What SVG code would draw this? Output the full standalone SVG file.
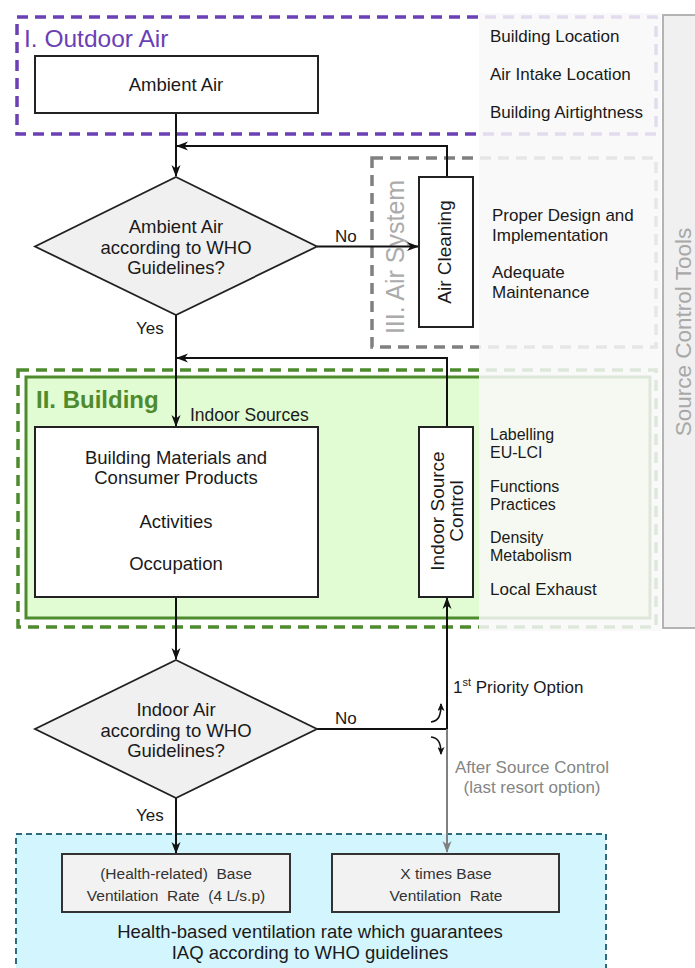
<svg xmlns="http://www.w3.org/2000/svg" width="695" height="968" viewBox="0 0 695 968">
<defs>
<marker id="ah" markerWidth="12" markerHeight="10" refX="11" refY="5" orient="auto" markerUnits="userSpaceOnUse">
<path d="M0,0.5 L12,5 L0,9.5 L3.5,5 z" fill="#111"/>
</marker>
<marker id="ahg" markerWidth="12" markerHeight="10" refX="11" refY="5" orient="auto" markerUnits="userSpaceOnUse">
<path d="M0,0.5 L12,5 L0,9.5 L3.5,5 z" fill="#808080"/>
</marker>
<marker id="ahs" markerWidth="8" markerHeight="7" refX="7" refY="3.5" orient="auto" markerUnits="userSpaceOnUse">
<path d="M0,0 L8,3.5 L0,7 L2,3.5 z" fill="#111"/>
</marker>
<style>
text{font-family:"Liberation Sans",Arial,sans-serif;fill:#1a1a1a}
.t{font-size:18.5px;text-anchor:middle}
.r{font-size:17px}
.s{font-size:16px}
.box{fill:#fff;stroke:#222;stroke-width:2}
.dia{fill:#f0f0f0;stroke:#222;stroke-width:1.8}
.bb{fill:#f2f2f2;stroke:#333;stroke-width:2}
.ln{fill:none;stroke:#111;stroke-width:2}
.bt{font-size:15.5px;text-anchor:middle;fill:#333}
</style>
</defs>
<rect width="695" height="968" fill="#fff"/>

<g id="outdoor-air-zone">
<rect x="17" y="17" width="639" height="117" fill="none" stroke="#6b3fb5" stroke-width="3.5" stroke-dasharray="11,7"/>
<text x="24" y="47" style="font-size:24.5px;fill:#6b3fb5">I. Outdoor Air</text>
</g>

<g id="air-system-zone">
<rect x="372" y="158" width="284" height="189" fill="none" stroke="#808080" stroke-width="3.5" stroke-dasharray="11,7"/>
<text transform="translate(404,257) rotate(-90)" style="font-size:25px;fill:#ababab;text-anchor:middle">III. Air System</text>
</g>

<g id="building-zone">
<rect x="18" y="370" width="638" height="257" fill="none" stroke="#4e8a2e" stroke-width="3.5" stroke-dasharray="11,7"/>
<rect x="26" y="377" width="624" height="241" fill="#e1fbd2" stroke="#4e8a2e" stroke-width="3"/>
<text x="36" y="408" style="font-size:24px;font-weight:bold;fill:#4e8a2e">II. Building</text>
</g>

<g id="ventilation-zone">
<rect x="16" y="834" width="590" height="150" fill="#d3f5fd" stroke="#2f6b7a" stroke-width="2" stroke-dasharray="6,4"/>
<text class="t" x="310" y="938">Health-based ventilation rate which guarantees</text>
<text class="t" x="310" y="959">IAQ according to WHO guidelines</text>
</g>

<g id="connectors">
<line class="ln" x1="176" y1="113" x2="176" y2="176" marker-end="url(#ah)"/>
<polyline class="ln" points="447,177 447,146 177,146" marker-end="url(#ah)"/>
<line class="ln" x1="317" y1="246.5" x2="418" y2="246.5" marker-end="url(#ah)"/>
<line class="ln" x1="176" y1="315" x2="176" y2="426" marker-end="url(#ah)"/>
<polyline class="ln" points="447,427 447,358 177,358" marker-end="url(#ah)"/>
<line class="ln" x1="176" y1="597" x2="176" y2="659" marker-end="url(#ah)"/>
<polyline class="ln" points="317,729 447,729 447,598" marker-end="url(#ah)"/>
<line x1="447" y1="729" x2="447" y2="852" fill="none" stroke="#808080" stroke-width="2" marker-end="url(#ahg)"/>
<line class="ln" x1="176" y1="798" x2="176" y2="853" marker-end="url(#ah)"/>
<path d="M431,722 C438,721 441,717 441,704" fill="none" stroke="#111" stroke-width="1.6" marker-end="url(#ahs)"/>
<path d="M431,737 C438,738 441,742 441,754" fill="none" stroke="#111" stroke-width="1.6" marker-end="url(#ahs)"/>
<text x="335" y="242" style="font-size:17px">No</text>
<text x="335" y="724" style="font-size:17px">No</text>
<text x="136" y="334" style="font-size:17px">Yes</text>
<text x="136" y="821" style="font-size:17px">Yes</text>
<text x="453" y="693" class="r">1<tspan dy="-7" style="font-size:11px">st</tspan><tspan dy="7"> Priority Option</tspan></text>
<text x="532" y="773" class="r" style="text-anchor:middle;fill:#858585">After Source Control</text>
<text x="532" y="793" class="r" style="text-anchor:middle;fill:#858585">(last resort option)</text>
</g>

<g id="ambient-air">
<rect class="box" x="35" y="56" width="283" height="57"/>
<text class="t" x="176" y="91">Ambient Air</text>
</g>

<g id="decision-ambient">
<polygon class="dia" points="176,177 317,246.5 176,315 35,246.5"/>
<text class="t" x="176" y="233">Ambient Air</text>
<text class="t" x="176" y="254">according to WHO</text>
<text class="t" x="176" y="274">Guidelines?</text>
</g>

<g id="air-cleaning">
<rect class="box" x="419" y="177" width="54" height="150"/>
<text transform="translate(451,252) rotate(-90)" style="font-size:19px;text-anchor:middle">Air Cleaning</text>
</g>

<g id="indoor-sources">
<text x="190" y="421" style="font-size:17.5px">Indoor Sources</text>
<rect class="box" x="35" y="427" width="283" height="170"/>
<text class="t" x="176" y="464">Building Materials and</text>
<text class="t" x="176" y="484">Consumer Products</text>
<text class="t" x="176" y="528">Activities</text>
<text class="t" x="176" y="570">Occupation</text>
</g>

<g id="indoor-source-control">
<rect class="box" x="419" y="427" width="54" height="170"/>
<text transform="translate(444,511) rotate(-90)" style="font-size:19px;text-anchor:middle">Indoor Source</text>
<text transform="translate(463,511) rotate(-90)" style="font-size:19px;text-anchor:middle">Control</text>
</g>

<g id="decision-indoor">
<polygon class="dia" points="176,660 317,729 176,798 35,729"/>
<text class="t" x="176" y="716">Indoor Air</text>
<text class="t" x="176" y="737">according to WHO</text>
<text class="t" x="176" y="757">Guidelines?</text>
</g>

<g id="base-rate">
<rect class="bb" x="62" y="854" width="228" height="58"/>
<text class="bt" x="176" y="879" xml:space="preserve">(Health-related)  Base</text>
<text class="bt" x="176" y="901" xml:space="preserve">Ventilation  Rate  (4 L/s.p)</text>
</g>

<g id="x-times-rate">
<rect class="bb" x="332" y="854" width="227" height="58"/>
<text class="bt" x="446" y="879">X times Base</text>
<text class="bt" x="446" y="901" xml:space="preserve">Ventilation  Rate</text>
</g>

<g id="overlay">
<rect x="479" y="13" width="182" height="618" fill="#f8f8f8" fill-opacity="0.85"/>
</g>

<g id="source-control-tools">
<rect x="663" y="15" width="40" height="613" fill="#f0f0f0" stroke="#b3b3b3" stroke-width="2"/>
<text transform="translate(691,332) rotate(-90)" style="font-size:22.5px;fill:#a8a8a8;text-anchor:middle">Source Control Tools</text>
</g>

<g id="tool-labels">
<text class="r" x="490" y="42">Building Location</text>
<text class="r" x="490" y="80">Air Intake Location</text>
<text class="r" x="490" y="118">Building Airtightness</text>
<text class="r" x="492" y="221">Proper Design and</text>
<text class="r" x="492" y="241">Implementation</text>
<text class="r" x="492" y="278">Adequate</text>
<text class="r" x="492" y="298">Maintenance</text>
<text class="s" x="490" y="440">Labelling</text>
<text class="s" x="490" y="458">EU-LCI</text>
<text class="s" x="490" y="492">Functions</text>
<text class="s" x="490" y="510">Practices</text>
<text class="s" x="490" y="543">Density</text>
<text class="s" x="490" y="561">Metabolism</text>
<text class="r" x="490" y="595">Local Exhaust</text>
</g>
</svg>
